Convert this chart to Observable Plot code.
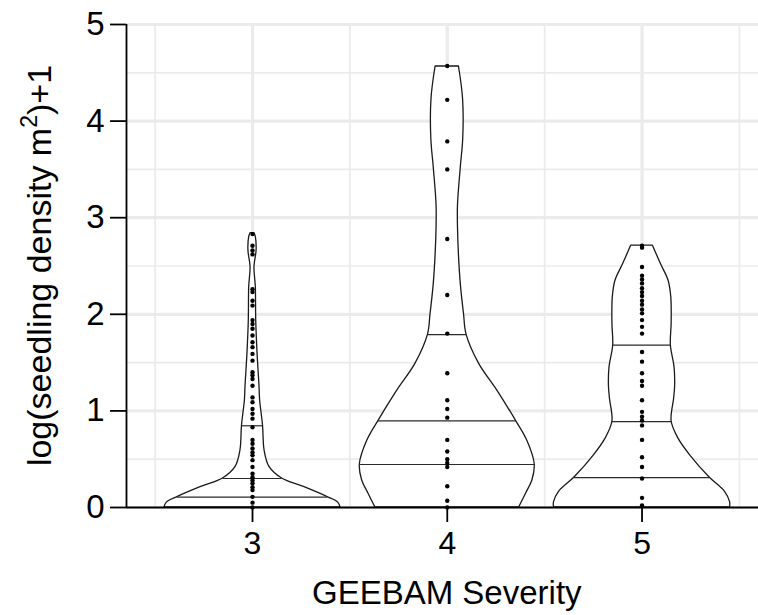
<!DOCTYPE html>
<html><head><meta charset="utf-8">
<script src="https://cdn.jsdelivr.net/npm/d3@7"></script>
<script src="https://cdn.jsdelivr.net/npm/@observablehq/plot@0.6"></script>
<style>
body{margin:0;background:#fff;}
#chart svg{font-family:"Liberation Sans",Arial,sans-serif;}
</style>
</head><body><div id="chart"></div>
<script>
// ---- data ----
const categories = [3, 4, 5];
const yTicks = [0, 1, 2, 3, 4, 5];
const yMinor = [0.5, 1.5, 2.5, 3.5, 4.5];
const xMinor = [2.5, 3.5, 4.5, 5.5];
const xDomain = [2.353, 5.598];
const xTitle = "GEEBAM Severity";
const yTitleParts = ["log(seedling density m", "2", ")+1"];

const dots3 = [2.83, 2.71, 2.66, 2.62, 2.26, 2.23, 2.14, 2.09, 1.94, 1.90, 1.85, 1.78, 1.71, 1.66, 1.59, 1.52, 1.40, 1.37, 1.33, 1.26, 1.14, 1.09, 1.02, 0.97, 0.92, 0.83, 0.70, 0.66, 0.61, 0.57, 0.54, 0.49, 0.42, 0.35, 0.31, 0.28, 0.25, 0.21, 0.18, 0.11, 0.05, 0];
const dots4 = [4.57, 4.22, 3.79, 3.50, 2.78, 2.20, 1.80, 1.39, 1.11, 1.02, 0.93, 0.70, 0.58, 0.50, 0.46, 0.42, 0.22, 0.07, 0];
const dots5 = [2.71, 2.69, 2.49, 2.40, 2.36, 2.32, 2.27, 2.23, 2.19, 2.14, 2.10, 2.05, 2.01, 1.94, 1.87, 1.80, 1.61, 1.51, 1.39, 1.31, 1.26, 1.11, 0.99, 0.94, 0.90, 0.85, 0.70, 0.52, 0.42, 0.30, 0.10, 0.02];

// violin outlines: y level and half-width (in category units)
const outline3Y = [0, 0.05, 0.107, 0.21, 0.30, 0.42, 0.59, 0.846, 1.11, 1.25, 1.59, 1.94, 2.28, 2.49, 2.66, 2.80, 2.84];
const outline3W = [0.452, 0.44, 0.386, 0.267, 0.152, 0.087, 0.062, 0.054, 0.039, 0.036, 0.026, 0.019, 0.017, 0.010, 0.021, 0.017, 0.010];
const outline4Y = [0, 0.145, 0.28, 0.445, 0.69, 0.897, 1.21, 1.49, 1.79, 2.0, 2.30, 2.61, 2.9, 3.13, 3.51, 3.82, 4.23, 4.565];
const outline4W = [0.369, 0.405, 0.437, 0.449, 0.411, 0.353, 0.257, 0.163, 0.099, 0.086, 0.070, 0.060, 0.055, 0.055, 0.069, 0.082, 0.081, 0.060];
const outline5Y = [0, 0.055, 0.16, 0.31, 0.54, 0.71, 0.89, 1.13, 1.26, 1.45, 1.68, 1.90, 2.18, 2.35, 2.52, 2.71];
const outline5W = [0.452, 0.452, 0.427, 0.347, 0.247, 0.188, 0.152, 0.165, 0.170, 0.167, 0.148, 0.152, 0.150, 0.136, 0.097, 0.056];

// quantile lines (25%, 50%, 75%): y level and half-width
const quant3Y = [0.107, 0.30, 0.846];
const quant3W = [0.386, 0.152, 0.054];
const quant4Y = [0.445, 0.897, 1.79];
const quant4W = [0.449, 0.353, 0.099];
const quant5Y = [0.31, 0.89, 1.68];
const quant5W = [0.347, 0.152, 0.148];

// ---- tables built from the arrays ----
const dotSets = [dots3, dots4, dots5];
const outlineSets = [[outline3Y, outline3W], [outline4Y, outline4W], [outline5Y, outline5W]];
const quantSets = [[quant3Y, quant3W], [quant4Y, quant4W], [quant5Y, quant5W]];

const dotRows = categories.flatMap((c, i) => dotSets[i].map(y => ({cat: c, y})));
const violinRows = categories.flatMap((c, i) => outlineSets[i][0].map((y, j) => ({cat: c, y, x1: c - outlineSets[i][1][j], x2: c + outlineSets[i][1][j]})));
const quantRows = categories.flatMap((c, i) => quantSets[i][0].map((y, j) => ({cat: c, y, x1: c - quantSets[i][1][j], x2: c + quantSets[i][1][j]})));

const grid = "#ebebeb";
const plot = Plot.plot({
  width: 758,
  height: 615,
  marginLeft: 126,
  marginRight: 0,
  marginTop: 24,
  marginBottom: 108,
  style: {fontFamily: '"Liberation Sans", Arial, sans-serif', color: "black", background: "white"},
  x: {domain: xDomain, label: null},
  y: {domain: [0, 5], label: null},
  marks: [
    Plot.ruleY(yMinor, {stroke: grid, strokeWidth: 1.7}),
    Plot.ruleX(xMinor, {stroke: grid, strokeWidth: 1.7}),
    Plot.ruleY(yTicks, {stroke: grid, strokeWidth: 3.2}),
    Plot.ruleX(categories, {stroke: grid, strokeWidth: 3.2}),
    Plot.areaX(violinRows, {y: "y", x1: "x1", x2: "x2", z: "cat", fill: "white", stroke: "#1a1a1a", strokeWidth: 1.3, curve: "catmull-rom"}),
    Plot.ruleY(quantRows, {y: "y", x1: "x1", x2: "x2", stroke: "#2a2a2a", strokeWidth: 1.2}),
    Plot.dot(dotRows, {x: "cat", y: "y", r: 2.2, fill: "black", stroke: "none"}),
    Plot.ruleY([0], {stroke: "black", strokeWidth: 1.8}),
    Plot.ruleX([xDomain[0]], {y1: 0, y2: 5, stroke: "black", strokeWidth: 1.8}),
    Plot.axisX({ticks: categories, tickSize: 15, tickPadding: 9, fontSize: 32, tickFormat: d => String(d), strokeWidth: 1.8, label: null}),
    Plot.axisY({ticks: yTicks, tickSize: 16, tickPadding: 6, fontSize: 33, tickFormat: d => String(d), strokeWidth: 1.8, label: null})
  ]
});
document.getElementById("chart").appendChild(plot);

const svg = d3.select(plot);
const xs = plot.scale("x"), ys = plot.scale("y");
svg.append("text")
  .attr("x", xs.apply(4))
  .attr("y", 604)
  .attr("text-anchor", "middle")
  .attr("font-size", 33)
  .attr("fill", "black")
  .text(xTitle);
const yt = svg.append("text")
  .attr("transform", `translate(51,${(ys.apply(0) + ys.apply(5)) / 2}) rotate(-90)`)
  .attr("text-anchor", "middle")
  .attr("font-size", 34)
  .attr("fill", "black");
yt.append("tspan").text(yTitleParts[0]);
yt.append("tspan").attr("font-size", 23).attr("dy", -14).text(yTitleParts[1]);
yt.append("tspan").attr("dy", 14).text(yTitleParts[2]);
</script>
</body></html>
